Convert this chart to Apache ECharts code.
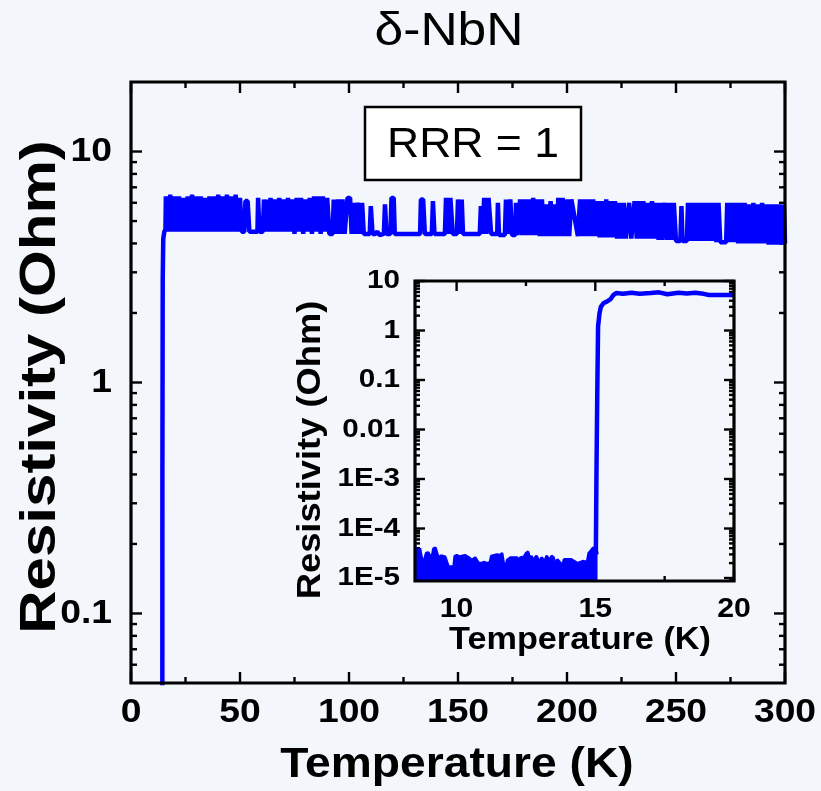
<!DOCTYPE html>
<html><head><meta charset="utf-8">
<script src="https://cdn.jsdelivr.net/npm/echarts@6/dist/echarts.min.js"></script>
<style>html,body{margin:0;padding:0;background:#F3F6FB;}#c{width:821px;height:791px;}</style>
</head><body><div id="c"></div>
<script>
// ---------- data ----------
const mainCurve = [
[8.5,1.5e-5],[14.3,1.5e-5],[14.4,0.4],[14.55,2.8],[14.8,4.2],[15.3,4.5],[15.8,4.6],
[16,6.4],[17,4.5],[18,6.5],[19,4.5],[20,6.4],[21,4.5],[22,6.4],[23,4.5],[24,6.3],[25,4.5],[26,6.4],[27,4.5],[28,6.5],[29,4.5],[30,6.4],[31,4.5],[32,6.4],[33,4.5],[34,6.3],[35,4.5],[36,6.4],[37,4.5],[38,6.4],[39,4.5],[40,6.5],[41,4.5],[42,6.4],[43,4.5],[44,6.5],[45,4.5],[46,6.4],[47,4.5],[48,6.5],[49,4.5],[50,6.3],[50.8,4.5],
[52,4.5],[52.5,6.1],[53.5,6.1],[54.3,4.5],[58,4.5],[58.3,6.3],[58.9,4.5],[60.5,4.5],[61,6.2],[62,4.5],[62.6,6.2],[63.2,4.5],
[64,6.3],[65,4.5],[66,6.2],[67,4.5],[68,6.3],[69,4.5],[70,6.2],[71,4.5],[72,6.3],[73,4.5],[74,6.2],[75,4.4],[76,6.3],[77,4.5],[78,6.3],[79,4.4],[80,6.2],[81,4.5],[82,6.3],[83,4.4],[84,6.4],[85,4.5],[86,6.4],[87,4.4],[88,6.4],[89,4.5],[90,6.3],[91,4.4],
[92.5,4.4],[93,6.2],[94,4.4],[95,6.2],[96,4.4],[97,6.2],[98,4.4],[99.3,6.3],[100.5,6.3],[101.2,4.4],[102,6.0],[103,4.4],[104,6.0],[105,4.4],[106,6.0],[106.8,4.4],[109.5,4.4],[110,5.8],[110.8,4.4],[112,4.4],[113,4.5],[114,4.35],[116,4.4],[116.5,5.9],[117.2,4.4],[119,4.4],[119.5,6.3],[120.5,6.3],[121,4.4],[132.6,4.4],[133,6.2],[134,6.2],[134.8,4.4],[138,4.4],[138.5,6.1],[139.2,4.4],[144,4.4],[144.5,6.3],[145.5,4.4],[146.5,6.3],[147.6,4.4],[149.5,4.4],[150,6.2],[151,4.4],[151.7,6.2],[152.3,4.4],[160,4.4],[160.5,5.8],[161.3,4.4],[162,6.3],[163,4.4],[164,6.3],[165.2,4.4],[168,4.4],[168.3,6.0],[168.8,4.35],[171.5,4.35],[172,6.2],[173,4.4],[174,6.2],[174.8,4.35],[176.3,4.35],[176.6,6.0],[177.3,4.35],
[178.5,6.2],[179.5,4.35],[180.5,6.2],[181.5,4.35],[182.5,6.2],[183.5,4.35],[184.5,6.3],[185.5,4.35],[186.5,6.2],[187.5,4.3],[188.5,6.2],[189.3,4.3],[190.5,5.9],[191.3,4.3],[192.5,6.1],[193.3,4.3],[194.5,5.9],[195.3,4.3],
[196,6.3],[197,4.3],[198,6.3],[199,4.3],[200.2,6.2],[201,4.3],[202,6.2],[205,4.3],
[206,6.2],[207,4.3],[208,6.2],[209,4.3],[210,6.2],[211,4.3],[212,6.2],[213,4.3],[214,6.1],[215,4.25],[216,6.1],[217,4.25],[218,6.2],[219,4.25],[220,6.1],[221,4.25],[222,6.1],[223,4.2],[224,6.0],
[225,4.2],[226,6.0],[227,4.2],[228.5,6.0],[229.5,4.2],[231,6.1],[232,4.2],[233,6.1],[234,4.2],[235,6.1],[236,4.2],[237,6.0],[238,4.2],[239,6.1],[240,4.2],[241,6.0],[242,4.15],[243,6.0],[243.8,4.15],[245,6.0],[246,4.15],[247,6.0],[248,4.15],[249,6.0],[250,4.1],[252,4.1],[252.5,5.8],[253,4.1],[255,4.1],[255.5,6.0],[256.5,4.1],[257.5,6.0],[258.5,4.1],[259.5,6.0],[260.5,4.1],[261.5,6.0],[262.5,4.1],[263.5,6.0],[264.5,4.1],[265.5,6.0],[266.5,4.1],[267.5,6.0],[268.5,4.05],[269.5,6.0],[270.3,4.05],[273,4.05],[273.5,6.0],[274.5,4.05],[275.5,6.0],[276.5,4.05],[277.5,6.0],[278.5,4.0],[279.5,6.0],[280.5,4.0],[281.5,6.0],[282.5,4.0],[283.5,5.9],[284.5,4.0],[285.5,6.0],[286.5,4.0],[287.5,5.9],[288.5,4.0],[289.5,6.0],[290.5,4.0],[291.5,5.9],[292.5,3.95],[293.5,5.9],[294.5,3.95],[295.5,5.9],[296.5,3.95],[297.5,5.9],[298.5,3.95],[299.5,5.9],[300,4.0]
];

// inset: top of the noise band below Tc (the band reaches below the axis bottom)
const insetNoise = [
[8.5,4.4e-5],[8.56,4.4e-5],[8.62,3.2e-5],[8.68,4.0e-5],[8.74,2.6e-5],[8.8,2.0e-5],[8.86,2.0e-5],[8.9,3.2e-5],[8.98,3.3e-5],[9.04,3.5e-5],[9.1,2.5e-5],[9.16,3.9e-5],[9.24,4.1e-5],[9.3,4.0e-5],[9.36,2.4e-5],[9.41,2.8e-5],[9.5,2.8e-5],[9.59,2.7e-5],[9.66,2.8e-5],[9.71,1.7e-5],[9.8,1.7e-5],[9.89,1.7e-5],[9.93,2.8e-5],[10.01,2.9e-5],[10.1,2.7e-5],[10.19,2.8e-5],[10.25,2.6e-5],[10.3,2.9e-5],[10.37,2.8e-5],[10.45,2.6e-5],[10.49,2.7e-5],[10.55,2.3e-5],[10.61,2.4e-5],[10.67,2.6e-5],[10.73,2.5e-5],[10.8,2.0e-5],[10.9,2.0e-5],[10.98,2.1e-5],[11.1,2.0e-5],[11.2,2.1e-5],[11.25,2.8e-5],[11.35,2.9e-5],[11.42,2.7e-5],[11.46,3.0e-5],[11.52,3.0e-5],[11.58,2.9e-5],[11.64,3.2e-5],[11.7,2.0e-5],[11.76,1.7e-5],[11.82,2.3e-5],[11.88,2.5e-5],[11.94,2.6e-5],[12.0,2.4e-5],[12.06,2.6e-5],[12.12,2.5e-5],[12.18,2.6e-5],[12.24,2.3e-5],[12.3,2.6e-5],[12.36,2.6e-5],[12.43,2.7e-5],[12.5,3.2e-5],[12.58,3.4e-5],[12.64,2.5e-5],[12.7,2.8e-5],[12.76,2.3e-5],[12.82,2.4e-5],[12.88,2.8e-5],[12.94,2.6e-5],[13.0,2.1e-5],[13.06,2.6e-5],[13.12,2.8e-5],[13.18,2.2e-5],[13.24,2.8e-5],[13.3,2.7e-5],[13.36,2.3e-5],[13.42,2.8e-5],[13.5,2.6e-5],[13.57,1.7e-5],[13.63,2.4e-5],[13.69,2.5e-5],[13.75,2.0e-5],[13.81,1.7e-5],[13.87,2.4e-5],[13.93,2.5e-5],[13.99,2.4e-5],[14.05,2.2e-5],[14.12,2.4e-5],[14.18,2.3e-5],[14.24,2.2e-5],[14.3,2.1e-5],[14.36,2.0e-5],[14.45,2.1e-5],[14.55,2.2e-5],[14.62,2.2e-5],[14.7,2.1e-5],[14.76,3.2e-5],[14.84,3.6e-5],[14.9,4.0e-5],[15.0,4.2e-5],[15.04,3.8e-5],[15.08,3.0e-5]
];
// inset: superconducting transition and normal state
const insetRise = [
[15.02,3.0e-5],[15.04,1e-3],[15.07,0.05],[15.1,1.2],[15.15,2.2],[15.2,3.0],[15.3,3.6],[15.4,3.8],[15.55,4.3],[15.65,5.2],[15.75,5.7],[16.0,5.5],[16.3,5.8],[16.6,5.5],[17.0,5.7],[17.3,5.9],[17.6,5.4],[18.0,5.8],[18.3,5.6],[18.6,5.8],[18.9,5.5],[19.1,5.2],[20,5.2]
];

// ---------- ticks and labels ----------
const mainXMajor = [0,50,100,150,200,250,300];
const mainXLabels = ['0','50','100','150','200','250','300'];
const mainXMinor = [25,75,125,175,225,275];
const mainYMajor = [0.1,1,10];
const mainYLabels = ['0.1','1','10'];
const mainYMinor = [0.06,0.07,0.08,0.09,0.2,0.3,0.4,0.5,0.6,0.7,0.8,0.9,2,3,4,5,6,7,8,9];
const insetXMajor = [10,15,20];
const insetXLabels = ['10','15','20'];
const insetXMinor = [12.5,17.5];
const insetYMajor = [1e-5,1e-4,1e-3,0.01,0.1,1,10];
const insetYLabels = ['1E-5','1E-4','1E-3','0.01','0.1','1','10'];
const insetYMinor = [9e-6,
 2e-5,3e-5,4e-5,5e-5,6e-5,7e-5,8e-5,9e-5,
 2e-4,3e-4,4e-4,5e-4,6e-4,7e-4,8e-4,9e-4,
 2e-3,3e-3,4e-3,5e-3,6e-3,7e-3,8e-3,9e-3,
 0.02,0.03,0.04,0.05,0.06,0.07,0.08,0.09,
 0.2,0.3,0.4,0.5,0.6,0.7,0.8,0.9,
 2,3,4,5,6,7,8,9];

const BG = '#F3F6FB';
const BLUE = '#0000FF';
const FF = "'Liberation Sans', Arial, Helvetica, sans-serif";

function tickSeries(gi, xMaj, xMin, yMaj, yMin, xRef, yRef, majLen, minLen) {
  const d = [];
  xMaj.forEach(v => d.push([v, yRef, 0, majLen]));
  xMin.forEach(v => d.push([v, yRef, 0, minLen]));
  yMaj.forEach(v => d.push([xRef, v, 1, majLen]));
  yMin.forEach(v => d.push([xRef, v, 1, minLen]));
  return {
    type: 'custom', xAxisIndex: gi, yAxisIndex: gi, z: 3, silent: true, animation: false,
    encode: {x: 0, y: 1}, data: d,
    renderItem(params, api) {
      const cs = params.coordSys;
      const p = api.coord([api.value(0), api.value(1)]);
      const k = api.value(2), L = api.value(3);
      const st = {stroke: '#000', lineWidth: 2.4};
      if (k === 0) {
        const x = p[0], b = cs.y + cs.height, t = cs.y;
        return {type: 'group', children: [
          {type: 'line', shape: {x1: x, y1: b, x2: x, y2: b - L}, style: st},
          {type: 'line', shape: {x1: x, y1: t, x2: x, y2: t + L}, style: st}]};
      }
      const y = p[1], l = cs.x, r = cs.x + cs.width;
      return {type: 'group', children: [
        {type: 'line', shape: {x1: l, y1: y, x2: l + L, y2: y}, style: st},
        {type: 'line', shape: {x1: r, y1: y, x2: r - L, y2: y}, style: st}]};
    }
  };
}
function frameSeries(gi, xRef, yRef, w) {
  return {
    type: 'custom', xAxisIndex: gi, yAxisIndex: gi, z: 6, silent: true, animation: false,
    encode: {x: 0, y: 1}, data: [[xRef, yRef]],
    renderItem(params, api) {
      const cs = params.coordSys;
      return {type: 'rect', shape: {x: cs.x, y: cs.y, width: cs.width, height: cs.height},
        style: {fill: null, stroke: '#000', lineWidth: w}};
    }
  };
}
function labelSeries(gi, axis, vals, texts, ref, offset, size, sx) {
  return {
    type: 'custom', xAxisIndex: gi, yAxisIndex: gi, z: 7, silent: true, animation: false,
    encode: {x: 0, y: 1},
    data: vals.map(v => axis === 'x' ? [v, ref] : [ref, v]),
    renderItem(params, api) {
      const cs = params.coordSys;
      const p = api.coord([api.value(0), api.value(1)]);
      const t = texts[params.dataIndex];
      let x, y, al;
      if (axis === 'x') { x = p[0]; y = cs.y + cs.height + offset; al = 'center'; }
      else { x = cs.x - offset; y = p[1]; al = 'right'; }
      return {type: 'text', x: x, y: y, scaleX: sx,
        style: {text: t, fill: '#000', fontSize: size, fontWeight: 'bold', fontFamily: FF,
          align: al, textAlign: al, verticalAlign: 'middle', textVerticalAlign: 'middle'}};
    }
  };
}
function gtext(text, x, y, size, weight, sx, rot) {
  return {type: 'text', x: x, y: y, scaleX: sx, rotation: rot || 0, z: 100,
    style: {text: text, fill: '#000', fontSize: size, fontWeight: weight, fontFamily: FF,
      align: 'center', textAlign: 'center', verticalAlign: 'middle', textVerticalAlign: 'middle'}};
}

const chart = echarts.init(document.getElementById('c'), null, {renderer: 'canvas'});
chart.setOption({
  backgroundColor: BG,
  animation: false,
  grid: [
    {left: 131, top: 82, width: 654, height: 601, show: false},
    {left: 415, top: 281, width: 319, height: 300, show: true, backgroundColor: BG, borderWidth: 0}
  ],
  xAxis: [
    {gridIndex: 0, type: 'value', min: 0, max: 300, show: false},
    {gridIndex: 1, type: 'value', min: 8.5, max: 20, show: false}
  ],
  yAxis: [
    {gridIndex: 0, type: 'log', logBase: 10, min: 0.05, max: 20, show: false},
    {gridIndex: 1, type: 'log', logBase: 10, min: 8.7e-6, max: 10, show: false}
  ],
  series: [
    {type: 'line', xAxisIndex: 0, yAxisIndex: 0, data: mainCurve, showSymbol: false, z: 5,
     lineStyle: {color: BLUE, width: 4.5}},
    {type: 'line', xAxisIndex: 1, yAxisIndex: 1, data: insetNoise, showSymbol: false, z: 5,
     lineStyle: {color: BLUE, width: 2.5},
     areaStyle: {color: BLUE, opacity: 1, origin: 'start'}},
    {type: 'line', xAxisIndex: 1, yAxisIndex: 1, data: insetRise, showSymbol: false, z: 5,
     lineStyle: {color: BLUE, width: 4.5}},
    tickSeries(0, mainXMajor, mainXMinor, mainYMajor, mainYMinor, 150, 1, 11, 6),
    tickSeries(1, insetXMajor, insetXMinor, insetYMajor, insetYMinor, 15, 1, 10, 5),
    frameSeries(0, 150, 1, 3.2),
    frameSeries(1, 15, 1, 3.2),
    labelSeries(0, 'x', mainXMajor, mainXLabels, 1, 30, 33, 1.13),
    labelSeries(0, 'y', mainYMajor, mainYLabels, 150, 19, 33, 1.13),
    labelSeries(1, 'x', insetXMajor, insetXLabels, 1, 29, 27, 1.12),
    labelSeries(1, 'y', insetYMajor, insetYLabels, 15, 15, 26, 1.14)
  ],
  graphic: [
    gtext('δ-NbN', 449, 32, 46, 'normal', 1.12),
    {type: 'rect', z: 99, shape: {x: 365, y: 107, width: 216, height: 73},
     style: {fill: '#FFFFFF', stroke: '#000', lineWidth: 2.5}},
    gtext('RRR = 1', 473, 145, 42, 'normal', 1.06),
    gtext('Temperature (K)', 457, 765, 42, 'bold', 1.1),
    gtext('Resistivity (Ohm)', 41, 387, 50, 'bold', 1.2, Math.PI / 2),
    gtext('Temperature (K)', 580, 640, 32, 'bold', 1.07),
    gtext('Resistivity (Ohm)', 311, 450, 33, 'bold', 1.1, Math.PI / 2)
  ]
});
</script></body></html>
